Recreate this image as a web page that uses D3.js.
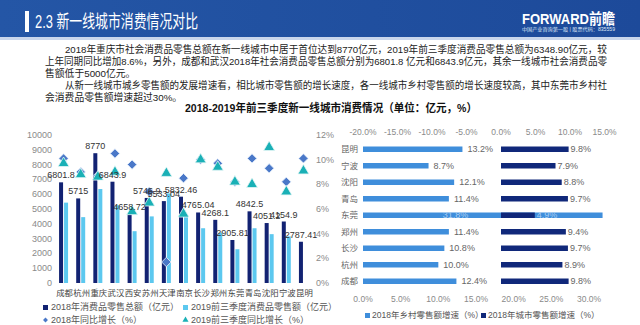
<!DOCTYPE html>
<html><head><meta charset="utf-8">
<script src="https://cdn.jsdelivr.net/npm/d3@7/dist/d3.min.js"></script>
<style>
html,body{margin:0;padding:0;background:#fff;}
svg{display:block;font-family:"Liberation Sans","Noto Sans CJK SC",sans-serif;}
</style></head><body>
<svg id="c" width="640" height="325"></svg>
<script>
// ---------- data ----------
const cities = ["成都","杭州","重庆","武汉","西安","苏州","天津","南京","长沙","郑州","东莞","青岛","沈阳","宁波","昆明"];
const total2018 = [6801.8,5715,8770,6843.9,4658.72,5746.9,5533.04,5832.46,4765.04,4268.1,2905.81,4842.5,4051.2,4154.9,2787.41];
const total2019Q3 = [5430,4450,6348.9,5250,3500,4500,6050,4650,3700,3400,2280,3700,3300,3150,null];
const growth2018 = [10.1,9.0,8.7,10.5,9.6,7.4,1.7,8.5,10.0,9.7,8.2,10.1,9.3,8.2,10.1];
const growth2019Q3 = [9.7,8.8,8.6,9.0,5.8,6.5,8.9,5.6,10.0,9.4,8.2,8.0,11.0,7.4,9.1];
const leftTicks = [0,1000,2000,3000,4000,5000,6000,7000,8000,9000,10000];
const rightTicks = [0,2,4,6,8,10,12];

const rCities = ["昆明","宁波","沈阳","青岛","东莞","郑州","长沙","杭州","成都"];
const ruralGrowth = [13.2,8.7,12.1,11.4,31.8,11.4,10.8,10.0,12.4];
const urbanGrowth = [9.8,7.9,8.8,9.7,4.9,9.4,9.7,8.9,9.8];
const topTicks = [-20,-15,-10,-5,0,5,10,15];
const bottomTicks = [0,5,10,15,20,25,30];

const paraLines = [
 "2018年重庆市社会消费品零售总额在新一线城市中居于首位达到8770亿元，2019年前三季度消费品零售总额为6348.90亿元，较",
 "上年同期同比增加8.6%，另外，成都和武汉2018年社会消费品零售总额分别为6801.8 亿元和6843.9亿元，其余一线城市社会消费品零",
 "售额低于5000亿元。",
 "从新一线城市城乡零售额的发展增速看，相比城市零售额的增长速度，各一线城市乡村零售额的增长速度较高，其中东莞市乡村社",
 "会消费品零售额增速超过30%。"
];

// ---------- colours ----------
const C = {navy:"#122272", light:"#5cc8ef", diamond:"#4a78c8", tri:"#1ab0b6",
           rural:"#3f8edb", urban:"#10287a", axis:"#8a8a8a", text:"#333"};

const svg = d3.select("#c");

// ---------- header ----------
const grad = svg.append("defs").append("linearGradient").attr("id","hg").attr("x1",0).attr("x2",1);
grad.append("stop").attr("offset",0).attr("stop-color","#2456a6");
grad.append("stop").attr("offset",1).attr("stop-color","#1d4a9a");
svg.append("rect").attr("x",0).attr("y",0).attr("width",640).attr("height",37).attr("fill","url(#hg)");
svg.append("rect").attr("x",0).attr("y",37).attr("width",640).attr("height",3).attr("fill","#c9d6ec");
svg.append("rect").attr("x",25).attr("y",11).attr("width",4).attr("height",21).attr("fill","#fff");
svg.append("text").attr("x",35).attr("y",28).attr("fill","#fff").attr("font-size",18.5)
   .attr("textLength",163).attr("lengthAdjust","spacingAndGlyphs").text("2.3  新一线城市消费情况对比");
svg.append("text").attr("x",522).attr("y",24).attr("fill","#fff").attr("font-size",15).attr("font-weight","bold")
   .attr("textLength",93).attr("lengthAdjust","spacingAndGlyphs").text("FORWARD前瞻");
svg.append("text").attr("x",522).attr("y",31).attr("fill","#dfe8f7").attr("font-size",4.5)
   .attr("textLength",93).attr("lengthAdjust","spacingAndGlyphs").text("中国产业咨询第一股 | 股票代码：835559");

// ---------- paragraphs ----------
const paraY = [53,65,77,89,101];
const paraX = [65,45,45,65,45];
const paraFull = [true,true,false,true,false];
paraLines.forEach((t,i)=>{
  const el = svg.append("text").attr("x",paraX[i]).attr("y",paraY[i]).attr("font-size",9.8).attr("fill","#222").text(t);
  if(paraFull[i]) el.attr("textLength",607-paraX[i]).attr("lengthAdjust","spacingAndGlyphs");
});

// ---------- chart title ----------
svg.append("text").attr("x",185).attr("y",112).attr("font-size",11.5).attr("font-weight","bold").attr("fill","#111")
   .attr("textLength",292).attr("lengthAdjust","spacingAndGlyphs").text("2018-2019年前三季度新一线城市消费情况（单位：亿元，%）");

// ---------- left combo chart ----------
const x = d3.scaleBand().domain(cities).range([55,312]);
const yL = d3.scaleLinear().domain([0,10000]).range([283,135]);
const yR = d3.scaleLinear().domain([0,12]).range([283,135]);

const gL = svg.append("g");
gL.selectAll("text.yl").data(leftTicks).join("text").attr("class","yl")
  .attr("x",52).attr("y",d=>yL(d)+3).attr("text-anchor","end").attr("font-size",9).attr("fill",C.axis).text(d=>d);
gL.selectAll("text.yr").data(rightTicks).join("text").attr("class","yr")
  .attr("x",316).attr("y",d=>yR(d)+3).attr("font-size",9).attr("fill",C.axis).text(d=>d+"%");

const cx = d=>x(d)+x.bandwidth()/2;
gL.selectAll("rect.d").data(cities).join("rect").attr("class","d")
  .attr("x",(d)=>cx(d)-4.5).attr("width",4)
  .attr("y",(d,i)=>yL(total2018[i])).attr("height",(d,i)=>283-yL(total2018[i])).attr("fill",C.navy);
gL.selectAll("rect.l").data(cities.filter((d,i)=>total2019Q3[i]!=null)).join("rect").attr("class","l")
  .attr("x",d=>cx(d)+0.5).attr("width",4)
  .attr("y",d=>yL(total2019Q3[cities.indexOf(d)])).attr("height",d=>283-yL(total2019Q3[cities.indexOf(d)])).attr("fill",C.light);

// markers
const sym = d3.symbol();
gL.selectAll("path.dm").data(cities).join("path").attr("class","dm")
  .attr("transform",(d,i)=>`translate(${cx(d)},${yR(growth2018[i])}) rotate(45)`)
  .attr("d",sym.type(d3.symbolSquare).size(44)()).attr("fill",C.diamond).attr("stroke","#e6f0fb").attr("stroke-width",0.8);
gL.selectAll("path.tr").data(cities).join("path").attr("class","tr")
  .attr("transform",(d,i)=>`translate(${cx(d)},${yR(growth2019Q3[i])})`)
  .attr("d",d3.symbol().type(d3.symbolTriangle).size(52)()).attr("fill",C.tri).attr("stroke","#e3f6f6").attr("stroke-width",0.8);

// value labels
gL.selectAll("text.v").data(cities).join("text").attr("class","v")
  .attr("x",d=>cx(d)-2.5).attr("y",(d,i)=>yL(total2018[i])-4).attr("text-anchor","middle")
  .attr("font-size",9).attr("fill","#333").text((d,i)=>total2018[i]);

// x labels
gL.selectAll("text.x").data(cities).join("text").attr("class","x")
  .attr("x",d=>cx(d)+1).attr("y",296).attr("text-anchor","middle").attr("font-size",8.4).attr("fill","#444").text(d=>d);

// left legend
const lg = svg.append("g").attr("font-size",9).attr("fill","#555");
lg.append("rect").attr("x",43).attr("y",305).attr("width",5).attr("height",5).attr("fill",C.navy);
lg.append("text").attr("x",51).attr("y",310).attr("fill","#555").text("2018年消费品零售总额（亿元）");
lg.append("rect").attr("x",183).attr("y",305).attr("width",5).attr("height",5).attr("fill",C.light);
lg.append("text").attr("x",191).attr("y",310).attr("fill","#555").text("2019前三季度消费品零售额（亿元）");
lg.append("path").attr("transform","translate(45.5,320) rotate(45)").attr("d",d3.symbol().type(d3.symbolSquare).size(12)()).attr("fill",C.diamond);
lg.append("text").attr("x",51).attr("y",323).attr("fill","#555").text("2018年同比增长（%）");
lg.append("path").attr("transform","translate(185.5,320)").attr("d",d3.symbol().type(d3.symbolTriangle).size(16)()).attr("fill",C.tri);
lg.append("text").attr("x",191).attr("y",323).attr("fill","#555").text("2019前三季度同比增长（%）");

// ---------- right bar chart ----------
const y2 = d3.scaleBand().domain(rCities).range([141,289.5]);
const xTop = d3.scaleLinear().domain([-20,15]).range([363,604.5]);
const xBot = d3.scaleLinear().domain([0,30]).range([363,589]);
const ry = d=>y2(d)+y2.bandwidth()/2;

const gR = svg.append("g");
gR.selectAll("text.tt").data(topTicks).join("text").attr("class","tt")
  .attr("x",d=>xTop(d)).attr("y",135).attr("text-anchor","middle").attr("font-size",8.5).attr("fill",C.axis)
  .text(d=>d.toFixed(1)+"%");
gR.selectAll("text.bt").data(bottomTicks).join("text").attr("class","bt")
  .attr("x",d=>xBot(d)).attr("y",302).attr("text-anchor","middle").attr("font-size",8.5).attr("fill",C.axis)
  .text(d=>d.toFixed(1)+"%");
gR.selectAll("text.cat").data(rCities).join("text").attr("class","cat")
  .attr("x",358).attr("y",d=>ry(d)+3).attr("text-anchor","end").attr("font-size",8.5).attr("fill","#666").text(d=>d);

gR.selectAll("rect.ru").data(rCities).join("rect").attr("class","ru")
  .attr("x",xBot(0)).attr("y",d=>ry(d)-2.75).attr("height",5.5)
  .attr("width",(d,i)=>xBot(ruralGrowth[i])-xBot(0)).attr("fill",C.rural);
gR.selectAll("rect.ur").data(rCities).join("rect").attr("class","ur")
  .attr("x",xTop(0)).attr("y",d=>ry(d)-2.75).attr("height",5.5)
  .attr("width",(d,i)=>xTop(urbanGrowth[i])-xTop(0)).attr("fill",C.urban);

const inside = v=>xBot(v)+30>xTop(0);
gR.selectAll("text.rl").data(rCities).join("text").attr("class","rl")
  .attr("x",(d,i)=>inside(ruralGrowth[i]) ? xBot(10.6) : xBot(ruralGrowth[i])+5)
  .attr("y",d=>ry(d)+3).attr("font-size",9)
  .attr("fill",(d,i)=>inside(ruralGrowth[i]) ? "#a9cdf2" : "#666")
  .text((d,i)=>ruralGrowth[i].toFixed(1)+"%");
gR.selectAll("text.ul").data(rCities).join("text").attr("class","ul")
  .attr("x",(d,i)=>xTop(urbanGrowth[i])+2)
  .attr("y",d=>ry(d)+3).attr("font-size",9)
  .attr("fill",(d,i)=>inside(ruralGrowth[i]) ? "#a9cdf2" : "#666")
  .text((d,i)=>urbanGrowth[i].toFixed(1)+"%");

// right legend
const rg = svg.append("g").attr("font-size",8.5);
rg.append("rect").attr("x",365).attr("y",313).attr("width",5).attr("height",5).attr("fill",C.rural);
rg.append("text").attr("x",372).attr("y",318).attr("fill","#555").text("2018年乡村零售额增速（%）");
rg.append("rect").attr("x",481).attr("y",313).attr("width",5).attr("height",5).attr("fill",C.urban);
rg.append("text").attr("x",488).attr("y",318).attr("fill","#555").text("2018年城市零售额增速（%）");
</script>
</body></html>
